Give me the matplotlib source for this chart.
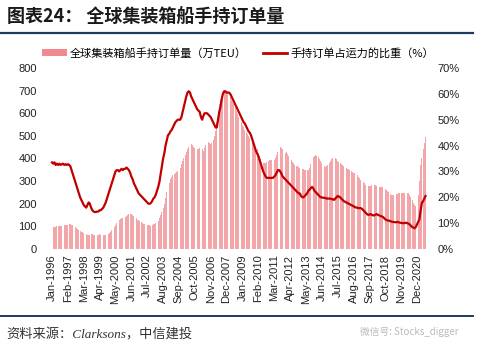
import matplotlib
matplotlib.use("Agg")
import matplotlib.pyplot as plt
from matplotlib.patches import Patch
from matplotlib.lines import Line2D
from matplotlib.ticker import FuncFormatter

plt.rcParams["font.family"] = ["Liberation Sans", "Noto Sans CJK SC", "DejaVu Sans"]

# ── Data (monthly, Jan-1996 .. Jul-2021) ───────────────────────────────────
# orderbook, 万TEU
orderbook = [
    97, 98, 98, 99, 100, 100, 101, 101, 102, 103, 104, 105,            # 1996
    106, 108, 110, 109, 108, 106, 102, 98, 93, 88, 84, 80,             # 1997
    77, 73, 70, 67, 65, 63, 62, 64, 68, 66, 63, 62,                    # 1998
    62, 63, 64, 65, 64, 63, 62, 63, 64, 66, 68, 72,                    # 1999
    76, 82, 90, 98, 106, 115, 122, 128, 133, 136, 138, 140,            # 2000
    143, 146, 150, 153, 155, 153, 150, 146, 140, 135, 130, 126,        # 2001
    122, 118, 115, 112, 110, 108, 106, 105, 104, 103, 105, 110,        # 2002
    112, 114, 118, 125, 135, 150, 165, 180, 200, 225, 250, 270,        # 2003
    290, 310, 320, 325, 330, 335, 340, 345, 350, 360, 375, 390,        # 2004
    400, 415, 430, 440, 450, 458, 462, 458, 452, 448, 445, 442,        # 2005
    440, 445, 450, 440, 435, 445, 460, 470, 472, 468, 465, 468,        # 2006
    480, 500, 520, 560, 610, 640, 660, 675, 685, 690, 695, 698,        # 2007
    690, 680, 670, 660, 650, 640, 625, 610, 595, 585, 575, 560,        # 2008
    548, 538, 528, 518, 508, 500, 492, 485, 478, 470, 460, 450,        # 2009
    440, 425, 410, 398, 388, 380, 378, 380, 385, 390, 392, 395,        # 2010
    395, 393, 392, 400, 415, 430, 445, 452, 448, 440, 432, 425,        # 2011
    428, 420, 410, 400, 392, 385, 378, 372, 368, 365, 362, 360,        # 2012
    358, 355, 352, 350, 349, 348, 350, 360, 375, 390, 405, 412,        # 2013
    415, 412, 405, 398, 390, 380, 372, 365, 362, 365, 372, 382,        # 2014
    390, 396, 400, 402, 400, 396, 390, 385, 380, 375, 370, 365,        # 2015
    362, 358, 355, 352, 348, 345, 342, 338, 335, 330, 325, 318,        # 2016
    312, 305, 300, 295, 290, 285, 282, 280, 278, 280, 282, 285,        # 2017
    285, 283, 280, 278, 276, 275, 274, 272, 270, 265, 260, 255,        # 2018
    250, 245, 240, 238, 240, 242, 243, 245, 246, 247, 248, 248,        # 2019
    247, 246, 245, 247, 246, 240, 230, 215, 205, 195, 190, 200,        # 2020
    240, 300, 370, 400, 440, 470, 495,                                 # 2021
]

# orderbook as share of fleet capacity, %
share = [
    33.5, 33, 33.5, 32.5, 33, 32.5, 33, 32.5, 32.8, 33, 32.5, 32.8,
    32.5, 32.8, 32.5, 32, 30.5, 29, 27.5, 26, 24.5, 23, 21.5, 20,
    19, 18, 17, 16.5, 16, 17, 18, 17.5, 16, 15, 14.5, 14.3,
    14.3, 14.5, 14.5, 15, 15, 15.5, 16, 17, 18, 19.5, 21, 22.5,
    24, 25.5, 27, 28.5, 30, 30.5, 30.5, 30, 30.5, 31, 30.5, 31,
    31, 31.5, 31, 30.5, 29.5, 28, 27, 25.5, 24.5, 23.5, 22.5, 21.5,
    21, 20.5, 20, 19.5, 19, 18.5, 18, 17.5, 17.5, 17.8, 18.5, 19.5,
    20, 21, 22.5, 24, 26, 29, 32, 35, 37, 40, 42, 44,
    44.5, 45.5, 46, 47, 48, 49, 49.5, 50, 50, 50, 51, 53,
    55, 57, 59, 60.5, 61, 60.5, 59, 58, 57, 56, 55, 54,
    53.5, 53, 51, 50, 51.5, 52.5, 52.5, 52.5, 52, 51.5, 51, 50,
    49, 48, 47, 47, 50, 53, 55, 58, 60, 61, 61, 60.5,
    60.5, 60.5, 60, 59, 58, 57, 56, 55, 54, 53, 52, 51,
    50, 49, 48.5, 47.5, 46.5, 45.5, 45, 44, 42.5, 41, 39.5, 38,
    37, 36, 34.5, 33, 31.5, 30, 29, 28, 27.5, 27.5, 27.5, 27.5,
    27.5, 27.5, 28, 28.5, 29.5, 30.5, 30.5, 30, 29, 28, 27.5, 27,
    26.5, 26, 25.5, 25, 24.5, 24, 23.5, 23, 22.5, 22, 21.5, 21.5,
    20.5, 20, 20, 20.5, 21, 21.5, 22.5, 23, 23.5, 24, 23.5, 22.5,
    22, 21.5, 21, 20.5, 20, 20, 19.8, 19.8, 19.7, 19.5, 19.5, 19.5,
    19.5, 19.3, 19.2, 19, 19.5, 20, 20.5, 20.3, 20, 19.5, 19, 18.5,
    18.3, 18, 17.8, 17.5, 17.3, 17, 16.8, 16.5, 16.3, 16, 16, 15.8,
    15.8, 15.8, 15.5, 15, 14.5, 14, 13.5, 13.2, 13.3, 13.5, 13.2, 13,
    13, 13.3, 13.5, 13.2, 13, 12.8, 12.6, 12.4, 12, 11.5, 11.2, 11,
    11, 10.8, 10.6, 10.5, 10.4, 10.4, 10.3, 10.5, 10.3, 10.2, 10.1, 10,
    10, 10, 10.2, 10, 9.8, 9.5, 9, 8.5, 8.3, 8, 8.5, 9.5,
    10.5, 11.5, 15, 17.8, 18.5, 19.5, 20.5,
]

MONTHS = ["Jan", "Feb", "Mar", "Apr", "May", "Jun",
          "Jul", "Aug", "Sep", "Oct", "Nov", "Dec"]
tick_pos = list(range(0, 300, 13))
tick_labels = [f"{MONTHS[p % 12]}-{1996 + p // 12}" for p in tick_pos]

BAR_C  = "#f3a6a9"
LINE_C = "#c00000"
RULE_C = "#1f3a5f"

# ── Figure ─────────────────────────────────────────────────────────────────
fig = plt.figure(figsize=(4.8, 3.51), dpi=100)
ax = fig.add_axes([0.1, 0.2906, 0.8, 0.5157])
ax2 = ax.twinx()

x = list(range(len(orderbook)))
ax.bar(x, orderbook, width=0.7, color=BAR_C, linewidth=0)
ax2.plot(range(len(share)), share, color=LINE_C, linewidth=1.6)

ax.set_xlim(-3.3, 311.3)
ax.set_ylim(0, 800)
ax.set_yticks(range(0, 801, 100))
ax2.set_ylim(0, 70)
ax2.set_yticks(range(0, 71, 10))
ax2.yaxis.set_major_formatter(FuncFormatter(lambda v, _: f"{v:.0f}%"))

ax.set_xticks(tick_pos)
ax.set_xticklabels(tick_labels, rotation=90)

for a in (ax, ax2):
    for s in a.spines.values():
        s.set_visible(False)
ax.tick_params(axis="both", length=0, labelsize=8, colors="#222222")
ax.tick_params(axis="y", pad=8)
ax.tick_params(axis="x", pad=4)
ax2.tick_params(axis="y", length=0, labelsize=8, colors="#222222", pad=4)

# legend
handles = [Patch(facecolor="#f08a8f", edgecolor="none"),
           Line2D([], [], color=LINE_C, linewidth=2)]
fig.legend(handles, ["全球集装箱船手持订单量（万TEU）", "手持订单占运力的比重（%）"],
           loc="center", bbox_to_anchor=(0.496, 0.849), ncol=2, frameon=False,
           handlelength=2.2, handleheight=0.5, handletextpad=0.3,
           columnspacing=1.4, prop={"family": ["Noto Sans CJK SC"], "size": 8})

# title, rules, source
fig.text(0.014, 0.952, "图表24： 全球集装箱船手持订单量", fontsize=13, fontweight="bold",
         color="#1a1a1a", va="center", ha="left", family=["Noto Sans CJK SC"])
fig.add_artist(Line2D([0.0, 0.985], [0.906, 0.906], color=RULE_C, linewidth=1.6))
fig.add_artist(Line2D([0.0, 0.985], [0.10, 0.10], color=RULE_C, linewidth=1.4))
fig.text(0.014, 0.046, "资料来源：Clarksons，中信建投", fontsize=9.5, style="italic",
         color="#333333", va="center", ha="left",
         family=["Liberation Serif", "Noto Sans CJK SC"])
fig.text(0.75, 0.055, "微信号: Stocks_digger", fontsize=7, color="#bbbbbb",
         va="center", ha="left", family=["Noto Sans CJK SC"])

plt.savefig("out.png", dpi=100)
plt.close()
